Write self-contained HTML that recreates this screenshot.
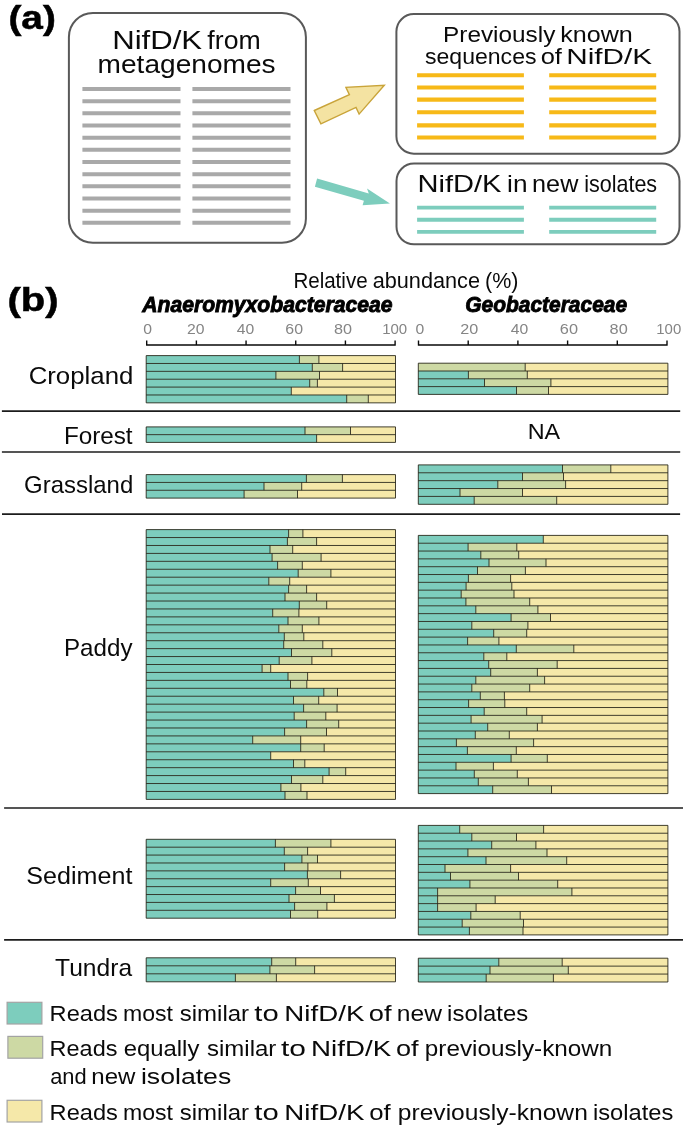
<!DOCTYPE html><html><head><meta charset="utf-8"><title>NifD/K figure</title>
<style>html,body{margin:0;padding:0;background:#fff}svg{display:block}text{font-family:"Liberation Sans",sans-serif;fill:#0a0a0a}</style></head><body>
<svg width="685" height="1131" viewBox="0 0 685 1131">
<rect width="685" height="1131" fill="#fff"/>
<text x="8.42" y="29.0" font-size="34" textLength="47.45" lengthAdjust="spacingAndGlyphs" font-weight="bold" style="fill:#000;stroke:#000;stroke-width:0.5">(a)</text>
<g fill="none" stroke="#595959" stroke-width="2">
<rect x="68.9" y="13" width="237" height="229.8" rx="24" ry="24"/>
<rect x="396.4" y="14.05" width="283.1" height="139.6" rx="17.5" ry="17.5"/>
<rect x="396.5" y="163.6" width="283" height="80.7" rx="17.5" ry="17.5"/>
</g>
<text x="112.18" y="48.5" font-size="25.2" textLength="89.96" lengthAdjust="spacingAndGlyphs">NifD/K</text> <text x="207.39" y="48.5" font-size="25.2" textLength="53.35" lengthAdjust="spacingAndGlyphs">from</text>
<text x="97.64" y="72.7" font-size="25.2" textLength="177.92" lengthAdjust="spacingAndGlyphs">metagenomes</text>
<path d="M82.4 89.00H180.5M192.4 89.00H290.5M82.4 101.17H180.5M192.4 101.17H290.5M82.4 113.34H180.5M192.4 113.34H290.5M82.4 125.51H180.5M192.4 125.51H290.5M82.4 137.68H180.5M192.4 137.68H290.5M82.4 149.85H180.5M192.4 149.85H290.5M82.4 162.02H180.5M192.4 162.02H290.5M82.4 174.19H180.5M192.4 174.19H290.5M82.4 186.36H180.5M192.4 186.36H290.5M82.4 198.53H180.5M192.4 198.53H290.5M82.4 210.70H180.5M192.4 210.70H290.5M82.4 222.87H180.5M192.4 222.87H290.5" stroke="#a9a9a9" stroke-width="4" fill="none"/>
<text x="443.05" y="41.9" font-size="22.8" textLength="112.29" lengthAdjust="spacingAndGlyphs">Previously</text> <text x="560.15" y="41.9" font-size="22.8" textLength="72.63" lengthAdjust="spacingAndGlyphs">known</text>
<text x="425.02" y="64.3" font-size="22.8" textLength="111.47" lengthAdjust="spacingAndGlyphs">sequences</text> <text x="540.65" y="64.3" font-size="22.8" textLength="21.27" lengthAdjust="spacingAndGlyphs">of</text> <text x="566.3" y="64.3" font-size="22.8" textLength="85.74" lengthAdjust="spacingAndGlyphs">NifD/K</text>
<path d="M417.1 75.30H523.9M549.2 75.30H656.2M417.1 87.50H523.9M549.2 87.50H656.2M417.1 99.60H523.9M549.2 99.60H656.2M417.1 112.30H523.9M549.2 112.30H656.2M417.1 125.40H523.9M549.2 125.40H656.2M417.1 137.50H523.9M549.2 137.50H656.2" stroke="#f7b918" stroke-width="4.1" fill="none"/>
<text x="417.46" y="191.7" font-size="23.2" textLength="83.94" lengthAdjust="spacingAndGlyphs">NifD/K</text> <text x="507.08" y="191.7" font-size="23.2" textLength="20.41" lengthAdjust="spacingAndGlyphs">in</text> <text x="532.12" y="191.7" font-size="23.2" textLength="46.23" lengthAdjust="spacingAndGlyphs">new</text> <text x="584.2" y="191.7" font-size="23.2" textLength="72.91" lengthAdjust="spacingAndGlyphs">isolates</text>
<path d="M417.1 207.60H523.9M549.2 207.60H656.2M417.1 219.75H523.9M549.2 219.75H656.2M417.1 231.90H523.9M549.2 231.90H656.2" stroke="#7dcdbd" stroke-width="3.9" fill="none"/>
<polygon points="314.3,110.5 349.4,94.7 345.9,87.3 384.3,85.3 359.1,114.1 356.0,107.4 320.9,123.8" fill="#f4e3a2" stroke="#c9a43a" stroke-width="1.4" stroke-linejoin="miter"/>
<polygon points="317.1,178.6 368.8,193.4 367.0,188.6 389.9,203.6 362.6,205.2 363.9,200.8 314.9,186.7" fill="#7dcdbd"/>
<text x="7.46" y="311.2" font-size="34" textLength="51.1" lengthAdjust="spacingAndGlyphs" font-weight="bold" style="fill:#000;stroke:#000;stroke-width:0.5">(b)</text>
<text x="293.4" y="288.2" font-size="21.8" textLength="74.18" lengthAdjust="spacingAndGlyphs">Relative</text> <text x="372.65" y="288.2" font-size="21.8" textLength="107.36" lengthAdjust="spacingAndGlyphs">abundance</text> <text x="485.04" y="288.2" font-size="21.8" textLength="33.4" lengthAdjust="spacingAndGlyphs">(%)</text>
<text x="142.24" y="312.1" font-size="21.7" textLength="250.18" lengthAdjust="spacingAndGlyphs" font-weight="bold" font-style="italic" style="fill:#000;stroke:#000;stroke-width:0.9">Anaeromyxobacteraceae</text>
<text x="465.35" y="312.1" font-size="21.7" textLength="161.73" lengthAdjust="spacingAndGlyphs" font-weight="bold" font-style="italic" style="fill:#000;stroke:#000;stroke-width:0.9">Geobacteraceae</text>
<text x="143.33" y="334.1" font-size="15.5" textLength="8.75" lengthAdjust="spacingAndGlyphs" style="fill:#858585">0</text>
<text x="187.07" y="334.1" font-size="15.5" textLength="17.5" lengthAdjust="spacingAndGlyphs" style="fill:#858585">20</text>
<text x="236.85" y="334.1" font-size="15.5" textLength="17.49" lengthAdjust="spacingAndGlyphs" style="fill:#858585">40</text>
<text x="285.34" y="334.1" font-size="15.5" textLength="17.69" lengthAdjust="spacingAndGlyphs" style="fill:#858585">60</text>
<text x="334.09" y="334.1" font-size="15.5" textLength="18.01" lengthAdjust="spacingAndGlyphs" style="fill:#858585">80</text>
<text x="382.15" y="334.1" font-size="15.5" textLength="25.04" lengthAdjust="spacingAndGlyphs" style="fill:#858585">100</text>
<path d="M146.1 345H395.7M146.70 340.6V345.6M196.38 340.6V345.6M246.06 340.6V345.6M295.74 340.6V345.6M345.42 340.6V345.6M395.10 340.6V345.6" stroke="#0a0a0a" stroke-width="1.4" fill="none"/>
<text x="415.61" y="334.1" font-size="15.5" textLength="8.74" lengthAdjust="spacingAndGlyphs" style="fill:#858585">0</text>
<text x="460.34" y="334.1" font-size="15.5" textLength="18.0" lengthAdjust="spacingAndGlyphs" style="fill:#858585">20</text>
<text x="510.85" y="334.1" font-size="15.5" textLength="17.49" lengthAdjust="spacingAndGlyphs" style="fill:#858585">40</text>
<text x="559.88" y="334.1" font-size="15.5" textLength="18.14" lengthAdjust="spacingAndGlyphs" style="fill:#858585">60</text>
<text x="609.62" y="334.1" font-size="15.5" textLength="18.15" lengthAdjust="spacingAndGlyphs" style="fill:#858585">80</text>
<text x="656.29" y="334.1" font-size="15.5" textLength="24.95" lengthAdjust="spacingAndGlyphs" style="fill:#858585">100</text>
<path d="M417.9 345H667.6M418.50 340.6V345.6M468.20 340.6V345.6M517.90 340.6V345.6M567.60 340.6V345.6M617.30 340.6V345.6M667.00 340.6V345.6" stroke="#0a0a0a" stroke-width="1.4" fill="none"/>
<path d="M1.9 411.1H680.2" stroke="#1c1c1c" stroke-width="1.7" fill="none"/>
<path d="M1.9 452.0H680.2" stroke="#1c1c1c" stroke-width="1.7" fill="none"/>
<path d="M2 514.1H680.1" stroke="#1c1c1c" stroke-width="1.7" fill="none"/>
<path d="M4.1 808.0H683" stroke="#1c1c1c" stroke-width="1.7" fill="none"/>
<path d="M4.1 939.9H683" stroke="#1c1c1c" stroke-width="1.7" fill="none"/>
<text x="28.65" y="383.8" font-size="24.4" textLength="104.69" lengthAdjust="spacingAndGlyphs">Cropland</text>
<text x="63.91" y="443.9" font-size="24.4" textLength="68.7" lengthAdjust="spacingAndGlyphs">Forest</text>
<text x="24.07" y="493.2" font-size="24.4" textLength="109.15" lengthAdjust="spacingAndGlyphs">Grassland</text>
<text x="63.99" y="655.6" font-size="24.4" textLength="68.53" lengthAdjust="spacingAndGlyphs">Paddy</text>
<text x="26.38" y="884.2" font-size="24.4" textLength="105.98" lengthAdjust="spacingAndGlyphs">Sediment</text>
<text x="55.1" y="975.9" font-size="24.4" textLength="76.98" lengthAdjust="spacingAndGlyphs">Tundra</text>
<text x="527.74" y="438.8" font-size="22.2" textLength="32.41" lengthAdjust="spacingAndGlyphs">NA</text>
<rect x="146.2" y="355.60" width="153.2" height="7.88" fill="#7dcdbd"/>
<rect x="299.4" y="355.60" width="19.5" height="7.88" fill="#cdd9a4"/>
<rect x="318.9" y="355.60" width="76.6" height="7.88" fill="#f5e8a9"/>
<rect x="146.2" y="363.48" width="166.1" height="7.88" fill="#7dcdbd"/>
<rect x="312.3" y="363.48" width="30.3" height="7.88" fill="#cdd9a4"/>
<rect x="342.6" y="363.48" width="52.9" height="7.88" fill="#f5e8a9"/>
<rect x="146.2" y="371.35" width="129.7" height="7.88" fill="#7dcdbd"/>
<rect x="275.9" y="371.35" width="43.6" height="7.88" fill="#cdd9a4"/>
<rect x="319.5" y="371.35" width="76.0" height="7.88" fill="#f5e8a9"/>
<rect x="146.2" y="379.23" width="163.5" height="7.88" fill="#7dcdbd"/>
<rect x="309.7" y="379.23" width="7.7" height="7.88" fill="#cdd9a4"/>
<rect x="317.4" y="379.23" width="78.1" height="7.88" fill="#f5e8a9"/>
<rect x="146.2" y="387.10" width="145.1" height="7.88" fill="#7dcdbd"/>
<rect x="291.3" y="387.10" width="104.2" height="7.88" fill="#f5e8a9"/>
<rect x="146.2" y="394.98" width="200.5" height="7.88" fill="#7dcdbd"/>
<rect x="346.7" y="394.98" width="21.6" height="7.88" fill="#cdd9a4"/>
<rect x="368.3" y="394.98" width="27.2" height="7.88" fill="#f5e8a9"/>
<rect x="146.2" y="426.90" width="158.8" height="7.75" fill="#7dcdbd"/>
<rect x="305.0" y="426.90" width="45.5" height="7.75" fill="#cdd9a4"/>
<rect x="350.5" y="426.90" width="45.0" height="7.75" fill="#f5e8a9"/>
<rect x="146.2" y="434.65" width="170.4" height="7.75" fill="#7dcdbd"/>
<rect x="316.6" y="434.65" width="78.9" height="7.75" fill="#f5e8a9"/>
<rect x="146.2" y="474.60" width="160.2" height="7.83" fill="#7dcdbd"/>
<rect x="306.4" y="474.60" width="36.0" height="7.83" fill="#cdd9a4"/>
<rect x="342.4" y="474.60" width="53.1" height="7.83" fill="#f5e8a9"/>
<rect x="146.2" y="482.43" width="117.8" height="7.83" fill="#7dcdbd"/>
<rect x="264.0" y="482.43" width="37.7" height="7.83" fill="#cdd9a4"/>
<rect x="301.7" y="482.43" width="93.8" height="7.83" fill="#f5e8a9"/>
<rect x="146.2" y="490.27" width="97.9" height="7.83" fill="#7dcdbd"/>
<rect x="244.1" y="490.27" width="53.4" height="7.83" fill="#cdd9a4"/>
<rect x="297.5" y="490.27" width="98.0" height="7.83" fill="#f5e8a9"/>
<rect x="146.2" y="529.60" width="142.4" height="7.94" fill="#7dcdbd"/>
<rect x="288.6" y="529.60" width="14.3" height="7.94" fill="#cdd9a4"/>
<rect x="302.9" y="529.60" width="92.6" height="7.94" fill="#f5e8a9"/>
<rect x="146.2" y="537.54" width="141.2" height="7.94" fill="#7dcdbd"/>
<rect x="287.4" y="537.54" width="29.2" height="7.94" fill="#cdd9a4"/>
<rect x="316.6" y="537.54" width="78.9" height="7.94" fill="#f5e8a9"/>
<rect x="146.2" y="545.47" width="123.8" height="7.94" fill="#7dcdbd"/>
<rect x="270.0" y="545.47" width="22.7" height="7.94" fill="#cdd9a4"/>
<rect x="292.7" y="545.47" width="102.8" height="7.94" fill="#f5e8a9"/>
<rect x="146.2" y="553.41" width="125.9" height="7.94" fill="#7dcdbd"/>
<rect x="272.1" y="553.41" width="49.0" height="7.94" fill="#cdd9a4"/>
<rect x="321.1" y="553.41" width="74.4" height="7.94" fill="#f5e8a9"/>
<rect x="146.2" y="561.34" width="131.4" height="7.94" fill="#7dcdbd"/>
<rect x="277.6" y="561.34" width="24.7" height="7.94" fill="#cdd9a4"/>
<rect x="302.3" y="561.34" width="93.2" height="7.94" fill="#f5e8a9"/>
<rect x="146.2" y="569.28" width="152.0" height="7.94" fill="#7dcdbd"/>
<rect x="298.2" y="569.28" width="32.7" height="7.94" fill="#cdd9a4"/>
<rect x="330.9" y="569.28" width="64.6" height="7.94" fill="#f5e8a9"/>
<rect x="146.2" y="577.21" width="122.6" height="7.94" fill="#7dcdbd"/>
<rect x="268.8" y="577.21" width="20.9" height="7.94" fill="#cdd9a4"/>
<rect x="289.7" y="577.21" width="105.8" height="7.94" fill="#f5e8a9"/>
<rect x="146.2" y="585.15" width="142.4" height="7.94" fill="#7dcdbd"/>
<rect x="288.6" y="585.15" width="18.0" height="7.94" fill="#cdd9a4"/>
<rect x="306.6" y="585.15" width="88.9" height="7.94" fill="#f5e8a9"/>
<rect x="146.2" y="593.08" width="138.8" height="7.94" fill="#7dcdbd"/>
<rect x="285.0" y="593.08" width="31.6" height="7.94" fill="#cdd9a4"/>
<rect x="316.6" y="593.08" width="78.9" height="7.94" fill="#f5e8a9"/>
<rect x="146.2" y="601.02" width="153.1" height="7.94" fill="#7dcdbd"/>
<rect x="299.3" y="601.02" width="27.4" height="7.94" fill="#cdd9a4"/>
<rect x="326.7" y="601.02" width="68.8" height="7.94" fill="#f5e8a9"/>
<rect x="146.2" y="608.95" width="126.5" height="7.94" fill="#7dcdbd"/>
<rect x="272.7" y="608.95" width="26.2" height="7.94" fill="#cdd9a4"/>
<rect x="298.9" y="608.95" width="96.6" height="7.94" fill="#f5e8a9"/>
<rect x="146.2" y="616.89" width="141.8" height="7.94" fill="#7dcdbd"/>
<rect x="288.0" y="616.89" width="30.9" height="7.94" fill="#cdd9a4"/>
<rect x="318.9" y="616.89" width="76.6" height="7.94" fill="#f5e8a9"/>
<rect x="146.2" y="624.82" width="132.6" height="7.94" fill="#7dcdbd"/>
<rect x="278.8" y="624.82" width="23.5" height="7.94" fill="#cdd9a4"/>
<rect x="302.3" y="624.82" width="93.2" height="7.94" fill="#f5e8a9"/>
<rect x="146.2" y="632.76" width="138.1" height="7.94" fill="#7dcdbd"/>
<rect x="284.3" y="632.76" width="19.5" height="7.94" fill="#cdd9a4"/>
<rect x="303.8" y="632.76" width="91.7" height="7.94" fill="#f5e8a9"/>
<rect x="146.2" y="640.69" width="137.5" height="7.94" fill="#7dcdbd"/>
<rect x="283.7" y="640.69" width="39.1" height="7.94" fill="#cdd9a4"/>
<rect x="322.8" y="640.69" width="72.7" height="7.94" fill="#f5e8a9"/>
<rect x="146.2" y="648.63" width="145.3" height="7.94" fill="#7dcdbd"/>
<rect x="291.5" y="648.63" width="40.3" height="7.94" fill="#cdd9a4"/>
<rect x="331.8" y="648.63" width="63.7" height="7.94" fill="#f5e8a9"/>
<rect x="146.2" y="656.56" width="133.0" height="7.94" fill="#7dcdbd"/>
<rect x="279.2" y="656.56" width="32.7" height="7.94" fill="#cdd9a4"/>
<rect x="311.9" y="656.56" width="83.6" height="7.94" fill="#f5e8a9"/>
<rect x="146.2" y="664.50" width="115.9" height="7.94" fill="#7dcdbd"/>
<rect x="262.1" y="664.50" width="8.6" height="7.94" fill="#cdd9a4"/>
<rect x="270.7" y="664.50" width="124.8" height="7.94" fill="#f5e8a9"/>
<rect x="146.2" y="672.44" width="141.8" height="7.94" fill="#7dcdbd"/>
<rect x="288.0" y="672.44" width="19.6" height="7.94" fill="#cdd9a4"/>
<rect x="307.6" y="672.44" width="87.9" height="7.94" fill="#f5e8a9"/>
<rect x="146.2" y="680.37" width="144.3" height="7.94" fill="#7dcdbd"/>
<rect x="290.5" y="680.37" width="16.3" height="7.94" fill="#cdd9a4"/>
<rect x="306.8" y="680.37" width="88.7" height="7.94" fill="#f5e8a9"/>
<rect x="146.2" y="688.31" width="177.6" height="7.94" fill="#7dcdbd"/>
<rect x="323.8" y="688.31" width="13.7" height="7.94" fill="#cdd9a4"/>
<rect x="337.5" y="688.31" width="58.0" height="7.94" fill="#f5e8a9"/>
<rect x="146.2" y="696.24" width="147.3" height="7.94" fill="#7dcdbd"/>
<rect x="293.5" y="696.24" width="25.2" height="7.94" fill="#cdd9a4"/>
<rect x="318.7" y="696.24" width="76.8" height="7.94" fill="#f5e8a9"/>
<rect x="146.2" y="704.18" width="157.4" height="7.94" fill="#7dcdbd"/>
<rect x="303.6" y="704.18" width="33.5" height="7.94" fill="#cdd9a4"/>
<rect x="337.1" y="704.18" width="58.4" height="7.94" fill="#f5e8a9"/>
<rect x="146.2" y="712.11" width="148.0" height="7.94" fill="#7dcdbd"/>
<rect x="294.2" y="712.11" width="31.6" height="7.94" fill="#cdd9a4"/>
<rect x="325.8" y="712.11" width="69.7" height="7.94" fill="#f5e8a9"/>
<rect x="146.2" y="720.05" width="160.4" height="7.94" fill="#7dcdbd"/>
<rect x="306.6" y="720.05" width="32.1" height="7.94" fill="#cdd9a4"/>
<rect x="338.7" y="720.05" width="56.8" height="7.94" fill="#f5e8a9"/>
<rect x="146.2" y="727.98" width="138.4" height="7.94" fill="#7dcdbd"/>
<rect x="284.6" y="727.98" width="41.9" height="7.94" fill="#cdd9a4"/>
<rect x="326.5" y="727.98" width="69.0" height="7.94" fill="#f5e8a9"/>
<rect x="146.2" y="735.92" width="106.5" height="7.94" fill="#7dcdbd"/>
<rect x="252.7" y="735.92" width="48.0" height="7.94" fill="#cdd9a4"/>
<rect x="300.7" y="735.92" width="94.8" height="7.94" fill="#f5e8a9"/>
<rect x="146.2" y="743.85" width="154.5" height="7.94" fill="#7dcdbd"/>
<rect x="300.7" y="743.85" width="23.5" height="7.94" fill="#cdd9a4"/>
<rect x="324.2" y="743.85" width="71.3" height="7.94" fill="#f5e8a9"/>
<rect x="146.2" y="751.79" width="124.5" height="7.94" fill="#7dcdbd"/>
<rect x="270.7" y="751.79" width="124.8" height="7.94" fill="#f5e8a9"/>
<rect x="146.2" y="759.72" width="147.3" height="7.94" fill="#7dcdbd"/>
<rect x="293.5" y="759.72" width="11.3" height="7.94" fill="#cdd9a4"/>
<rect x="304.8" y="759.72" width="90.7" height="7.94" fill="#f5e8a9"/>
<rect x="146.2" y="767.66" width="182.9" height="7.94" fill="#7dcdbd"/>
<rect x="329.1" y="767.66" width="16.6" height="7.94" fill="#cdd9a4"/>
<rect x="345.7" y="767.66" width="49.8" height="7.94" fill="#f5e8a9"/>
<rect x="146.2" y="775.59" width="145.3" height="7.94" fill="#7dcdbd"/>
<rect x="291.5" y="775.59" width="31.3" height="7.94" fill="#cdd9a4"/>
<rect x="322.8" y="775.59" width="72.7" height="7.94" fill="#f5e8a9"/>
<rect x="146.2" y="783.53" width="134.7" height="7.94" fill="#7dcdbd"/>
<rect x="280.9" y="783.53" width="20.0" height="7.94" fill="#cdd9a4"/>
<rect x="300.9" y="783.53" width="94.6" height="7.94" fill="#f5e8a9"/>
<rect x="146.2" y="791.46" width="138.8" height="7.94" fill="#7dcdbd"/>
<rect x="285.0" y="791.46" width="22.0" height="7.94" fill="#cdd9a4"/>
<rect x="307.0" y="791.46" width="88.5" height="7.94" fill="#f5e8a9"/>
<rect x="146.2" y="839.30" width="129.2" height="7.89" fill="#7dcdbd"/>
<rect x="275.4" y="839.30" width="55.5" height="7.89" fill="#cdd9a4"/>
<rect x="330.9" y="839.30" width="64.6" height="7.89" fill="#f5e8a9"/>
<rect x="146.2" y="847.19" width="138.1" height="7.89" fill="#7dcdbd"/>
<rect x="284.3" y="847.19" width="23.3" height="7.89" fill="#cdd9a4"/>
<rect x="307.6" y="847.19" width="87.9" height="7.89" fill="#f5e8a9"/>
<rect x="146.2" y="855.08" width="155.7" height="7.89" fill="#7dcdbd"/>
<rect x="301.9" y="855.08" width="15.6" height="7.89" fill="#cdd9a4"/>
<rect x="317.5" y="855.08" width="78.0" height="7.89" fill="#f5e8a9"/>
<rect x="146.2" y="862.97" width="138.4" height="7.89" fill="#7dcdbd"/>
<rect x="284.6" y="862.97" width="23.3" height="7.89" fill="#cdd9a4"/>
<rect x="307.9" y="862.97" width="87.6" height="7.89" fill="#f5e8a9"/>
<rect x="146.2" y="870.86" width="161.2" height="7.89" fill="#7dcdbd"/>
<rect x="307.4" y="870.86" width="33.2" height="7.89" fill="#cdd9a4"/>
<rect x="340.6" y="870.86" width="54.9" height="7.89" fill="#f5e8a9"/>
<rect x="146.2" y="878.75" width="124.5" height="7.89" fill="#7dcdbd"/>
<rect x="270.7" y="878.75" width="37.6" height="7.89" fill="#cdd9a4"/>
<rect x="308.3" y="878.75" width="87.2" height="7.89" fill="#f5e8a9"/>
<rect x="146.2" y="886.64" width="149.4" height="7.89" fill="#7dcdbd"/>
<rect x="295.6" y="886.64" width="24.9" height="7.89" fill="#cdd9a4"/>
<rect x="320.5" y="886.64" width="75.0" height="7.89" fill="#f5e8a9"/>
<rect x="146.2" y="894.53" width="142.8" height="7.89" fill="#7dcdbd"/>
<rect x="289.0" y="894.53" width="45.4" height="7.89" fill="#cdd9a4"/>
<rect x="334.4" y="894.53" width="61.1" height="7.89" fill="#f5e8a9"/>
<rect x="146.2" y="902.42" width="148.4" height="7.89" fill="#7dcdbd"/>
<rect x="294.6" y="902.42" width="32.3" height="7.89" fill="#cdd9a4"/>
<rect x="326.9" y="902.42" width="68.6" height="7.89" fill="#f5e8a9"/>
<rect x="146.2" y="910.31" width="144.3" height="7.89" fill="#7dcdbd"/>
<rect x="290.5" y="910.31" width="27.2" height="7.89" fill="#cdd9a4"/>
<rect x="317.7" y="910.31" width="77.8" height="7.89" fill="#f5e8a9"/>
<rect x="146.2" y="957.80" width="125.5" height="8.00" fill="#7dcdbd"/>
<rect x="271.7" y="957.80" width="24.0" height="8.00" fill="#cdd9a4"/>
<rect x="295.7" y="957.80" width="99.8" height="8.00" fill="#f5e8a9"/>
<rect x="146.2" y="965.80" width="123.7" height="8.00" fill="#7dcdbd"/>
<rect x="269.9" y="965.80" width="44.7" height="8.00" fill="#cdd9a4"/>
<rect x="314.6" y="965.80" width="80.9" height="8.00" fill="#f5e8a9"/>
<rect x="146.2" y="973.80" width="89.2" height="8.00" fill="#7dcdbd"/>
<rect x="235.4" y="973.80" width="41.0" height="8.00" fill="#cdd9a4"/>
<rect x="276.4" y="973.80" width="119.1" height="8.00" fill="#f5e8a9"/>
<rect x="418.3" y="363.20" width="106.9" height="7.80" fill="#cdd9a4"/>
<rect x="525.2" y="363.20" width="142.7" height="7.80" fill="#f5e8a9"/>
<rect x="418.3" y="371.00" width="50.1" height="7.80" fill="#7dcdbd"/>
<rect x="468.4" y="371.00" width="58.9" height="7.80" fill="#cdd9a4"/>
<rect x="527.3" y="371.00" width="140.6" height="7.80" fill="#f5e8a9"/>
<rect x="418.3" y="378.80" width="66.2" height="7.80" fill="#7dcdbd"/>
<rect x="484.5" y="378.80" width="66.4" height="7.80" fill="#cdd9a4"/>
<rect x="550.9" y="378.80" width="117.0" height="7.80" fill="#f5e8a9"/>
<rect x="418.3" y="386.60" width="98.2" height="7.80" fill="#7dcdbd"/>
<rect x="516.5" y="386.60" width="32.0" height="7.80" fill="#cdd9a4"/>
<rect x="548.5" y="386.60" width="119.4" height="7.80" fill="#f5e8a9"/>
<rect x="418.3" y="464.90" width="144.2" height="7.88" fill="#7dcdbd"/>
<rect x="562.5" y="464.90" width="48.3" height="7.88" fill="#cdd9a4"/>
<rect x="610.8" y="464.90" width="57.1" height="7.88" fill="#f5e8a9"/>
<rect x="418.3" y="472.78" width="104.2" height="7.88" fill="#7dcdbd"/>
<rect x="522.5" y="472.78" width="41.0" height="7.88" fill="#cdd9a4"/>
<rect x="563.5" y="472.78" width="104.4" height="7.88" fill="#f5e8a9"/>
<rect x="418.3" y="480.66" width="79.5" height="7.88" fill="#7dcdbd"/>
<rect x="497.8" y="480.66" width="67.8" height="7.88" fill="#cdd9a4"/>
<rect x="565.6" y="480.66" width="102.3" height="7.88" fill="#f5e8a9"/>
<rect x="418.3" y="488.54" width="41.7" height="7.88" fill="#7dcdbd"/>
<rect x="460.0" y="488.54" width="62.5" height="7.88" fill="#cdd9a4"/>
<rect x="522.5" y="488.54" width="145.4" height="7.88" fill="#f5e8a9"/>
<rect x="418.3" y="496.42" width="55.9" height="7.88" fill="#7dcdbd"/>
<rect x="474.2" y="496.42" width="82.5" height="7.88" fill="#cdd9a4"/>
<rect x="556.7" y="496.42" width="111.2" height="7.88" fill="#f5e8a9"/>
<rect x="418.3" y="535.40" width="125.0" height="7.82" fill="#7dcdbd"/>
<rect x="543.3" y="535.40" width="124.6" height="7.82" fill="#f5e8a9"/>
<rect x="418.3" y="543.22" width="49.8" height="7.82" fill="#7dcdbd"/>
<rect x="468.1" y="543.22" width="48.7" height="7.82" fill="#cdd9a4"/>
<rect x="516.8" y="543.22" width="151.1" height="7.82" fill="#f5e8a9"/>
<rect x="418.3" y="551.05" width="62.5" height="7.82" fill="#7dcdbd"/>
<rect x="480.8" y="551.05" width="37.9" height="7.82" fill="#cdd9a4"/>
<rect x="518.7" y="551.05" width="149.2" height="7.82" fill="#f5e8a9"/>
<rect x="418.3" y="558.87" width="70.7" height="7.82" fill="#7dcdbd"/>
<rect x="489.0" y="558.87" width="57.0" height="7.82" fill="#cdd9a4"/>
<rect x="546.0" y="558.87" width="121.9" height="7.82" fill="#f5e8a9"/>
<rect x="418.3" y="566.70" width="59.2" height="7.82" fill="#7dcdbd"/>
<rect x="477.5" y="566.70" width="47.9" height="7.82" fill="#cdd9a4"/>
<rect x="525.4" y="566.70" width="142.5" height="7.82" fill="#f5e8a9"/>
<rect x="418.3" y="574.52" width="50.1" height="7.82" fill="#7dcdbd"/>
<rect x="468.4" y="574.52" width="42.2" height="7.82" fill="#cdd9a4"/>
<rect x="510.6" y="574.52" width="157.3" height="7.82" fill="#f5e8a9"/>
<rect x="418.3" y="582.35" width="47.8" height="7.82" fill="#7dcdbd"/>
<rect x="466.1" y="582.35" width="45.7" height="7.82" fill="#cdd9a4"/>
<rect x="511.8" y="582.35" width="156.1" height="7.82" fill="#f5e8a9"/>
<rect x="418.3" y="590.17" width="42.9" height="7.82" fill="#7dcdbd"/>
<rect x="461.2" y="590.17" width="52.8" height="7.82" fill="#cdd9a4"/>
<rect x="514.0" y="590.17" width="153.9" height="7.82" fill="#f5e8a9"/>
<rect x="418.3" y="597.99" width="47.6" height="7.82" fill="#7dcdbd"/>
<rect x="465.9" y="597.99" width="63.8" height="7.82" fill="#cdd9a4"/>
<rect x="529.7" y="597.99" width="138.2" height="7.82" fill="#f5e8a9"/>
<rect x="418.3" y="605.82" width="57.5" height="7.82" fill="#7dcdbd"/>
<rect x="475.8" y="605.82" width="62.1" height="7.82" fill="#cdd9a4"/>
<rect x="537.9" y="605.82" width="130.0" height="7.82" fill="#f5e8a9"/>
<rect x="418.3" y="613.64" width="92.8" height="7.82" fill="#7dcdbd"/>
<rect x="511.1" y="613.64" width="39.4" height="7.82" fill="#cdd9a4"/>
<rect x="550.5" y="613.64" width="117.4" height="7.82" fill="#f5e8a9"/>
<rect x="418.3" y="621.47" width="53.5" height="7.82" fill="#7dcdbd"/>
<rect x="471.8" y="621.47" width="56.1" height="7.82" fill="#cdd9a4"/>
<rect x="527.9" y="621.47" width="140.0" height="7.82" fill="#f5e8a9"/>
<rect x="418.3" y="629.29" width="75.4" height="7.82" fill="#7dcdbd"/>
<rect x="493.7" y="629.29" width="33.0" height="7.82" fill="#cdd9a4"/>
<rect x="526.7" y="629.29" width="141.2" height="7.82" fill="#f5e8a9"/>
<rect x="418.3" y="637.12" width="49.3" height="7.82" fill="#7dcdbd"/>
<rect x="467.6" y="637.12" width="31.3" height="7.82" fill="#cdd9a4"/>
<rect x="498.9" y="637.12" width="169.0" height="7.82" fill="#f5e8a9"/>
<rect x="418.3" y="644.94" width="98.0" height="7.82" fill="#7dcdbd"/>
<rect x="516.3" y="644.94" width="57.5" height="7.82" fill="#cdd9a4"/>
<rect x="573.8" y="644.94" width="94.1" height="7.82" fill="#f5e8a9"/>
<rect x="418.3" y="652.76" width="65.5" height="7.82" fill="#7dcdbd"/>
<rect x="483.8" y="652.76" width="23.0" height="7.82" fill="#cdd9a4"/>
<rect x="506.8" y="652.76" width="161.1" height="7.82" fill="#f5e8a9"/>
<rect x="418.3" y="660.59" width="70.4" height="7.82" fill="#7dcdbd"/>
<rect x="488.7" y="660.59" width="68.5" height="7.82" fill="#cdd9a4"/>
<rect x="557.2" y="660.59" width="110.7" height="7.82" fill="#f5e8a9"/>
<rect x="418.3" y="668.41" width="72.4" height="7.82" fill="#7dcdbd"/>
<rect x="490.7" y="668.41" width="46.7" height="7.82" fill="#cdd9a4"/>
<rect x="537.4" y="668.41" width="130.5" height="7.82" fill="#f5e8a9"/>
<rect x="418.3" y="676.24" width="57.5" height="7.82" fill="#7dcdbd"/>
<rect x="475.8" y="676.24" width="68.8" height="7.82" fill="#cdd9a4"/>
<rect x="544.6" y="676.24" width="123.3" height="7.82" fill="#f5e8a9"/>
<rect x="418.3" y="684.06" width="53.5" height="7.82" fill="#7dcdbd"/>
<rect x="471.8" y="684.06" width="57.9" height="7.82" fill="#cdd9a4"/>
<rect x="529.7" y="684.06" width="138.2" height="7.82" fill="#f5e8a9"/>
<rect x="418.3" y="691.88" width="62.0" height="7.82" fill="#7dcdbd"/>
<rect x="480.3" y="691.88" width="24.1" height="7.82" fill="#cdd9a4"/>
<rect x="504.4" y="691.88" width="163.5" height="7.82" fill="#f5e8a9"/>
<rect x="418.3" y="699.71" width="50.3" height="7.82" fill="#7dcdbd"/>
<rect x="468.6" y="699.71" width="36.2" height="7.82" fill="#cdd9a4"/>
<rect x="504.8" y="699.71" width="163.1" height="7.82" fill="#f5e8a9"/>
<rect x="418.3" y="707.53" width="65.9" height="7.82" fill="#7dcdbd"/>
<rect x="484.2" y="707.53" width="42.5" height="7.82" fill="#cdd9a4"/>
<rect x="526.7" y="707.53" width="141.2" height="7.82" fill="#f5e8a9"/>
<rect x="418.3" y="715.36" width="52.8" height="7.82" fill="#7dcdbd"/>
<rect x="471.1" y="715.36" width="71.0" height="7.82" fill="#cdd9a4"/>
<rect x="542.1" y="715.36" width="125.8" height="7.82" fill="#f5e8a9"/>
<rect x="418.3" y="723.18" width="69.4" height="7.82" fill="#7dcdbd"/>
<rect x="487.7" y="723.18" width="49.7" height="7.82" fill="#cdd9a4"/>
<rect x="537.4" y="723.18" width="130.5" height="7.82" fill="#f5e8a9"/>
<rect x="418.3" y="731.01" width="57.0" height="7.82" fill="#7dcdbd"/>
<rect x="475.3" y="731.01" width="34.0" height="7.82" fill="#cdd9a4"/>
<rect x="509.3" y="731.01" width="158.6" height="7.82" fill="#f5e8a9"/>
<rect x="418.3" y="738.83" width="38.1" height="7.82" fill="#7dcdbd"/>
<rect x="456.4" y="738.83" width="77.2" height="7.82" fill="#cdd9a4"/>
<rect x="533.6" y="738.83" width="134.3" height="7.82" fill="#f5e8a9"/>
<rect x="418.3" y="746.65" width="49.1" height="7.82" fill="#7dcdbd"/>
<rect x="467.4" y="746.65" width="48.9" height="7.82" fill="#cdd9a4"/>
<rect x="516.3" y="746.65" width="151.6" height="7.82" fill="#f5e8a9"/>
<rect x="418.3" y="754.48" width="92.8" height="7.82" fill="#7dcdbd"/>
<rect x="511.1" y="754.48" width="36.2" height="7.82" fill="#cdd9a4"/>
<rect x="547.3" y="754.48" width="120.6" height="7.82" fill="#f5e8a9"/>
<rect x="418.3" y="762.30" width="37.7" height="7.82" fill="#7dcdbd"/>
<rect x="456.0" y="762.30" width="37.4" height="7.82" fill="#cdd9a4"/>
<rect x="493.4" y="762.30" width="174.5" height="7.82" fill="#f5e8a9"/>
<rect x="418.3" y="770.13" width="56.0" height="7.82" fill="#7dcdbd"/>
<rect x="474.3" y="770.13" width="43.0" height="7.82" fill="#cdd9a4"/>
<rect x="517.3" y="770.13" width="150.6" height="7.82" fill="#f5e8a9"/>
<rect x="418.3" y="777.95" width="60.0" height="7.82" fill="#7dcdbd"/>
<rect x="478.3" y="777.95" width="50.1" height="7.82" fill="#cdd9a4"/>
<rect x="528.4" y="777.95" width="139.5" height="7.82" fill="#f5e8a9"/>
<rect x="418.3" y="785.78" width="74.4" height="7.82" fill="#7dcdbd"/>
<rect x="492.7" y="785.78" width="58.8" height="7.82" fill="#cdd9a4"/>
<rect x="551.5" y="785.78" width="116.4" height="7.82" fill="#f5e8a9"/>
<rect x="418.3" y="825.40" width="41.4" height="7.82" fill="#7dcdbd"/>
<rect x="459.7" y="825.40" width="83.9" height="7.82" fill="#cdd9a4"/>
<rect x="543.6" y="825.40" width="124.3" height="7.82" fill="#f5e8a9"/>
<rect x="418.3" y="833.22" width="53.5" height="7.82" fill="#7dcdbd"/>
<rect x="471.8" y="833.22" width="44.7" height="7.82" fill="#cdd9a4"/>
<rect x="516.5" y="833.22" width="151.4" height="7.82" fill="#f5e8a9"/>
<rect x="418.3" y="841.04" width="73.4" height="7.82" fill="#7dcdbd"/>
<rect x="491.7" y="841.04" width="44.2" height="7.82" fill="#cdd9a4"/>
<rect x="535.9" y="841.04" width="132.0" height="7.82" fill="#f5e8a9"/>
<rect x="418.3" y="848.86" width="49.6" height="7.82" fill="#7dcdbd"/>
<rect x="467.9" y="848.86" width="79.1" height="7.82" fill="#cdd9a4"/>
<rect x="547.0" y="848.86" width="120.9" height="7.82" fill="#f5e8a9"/>
<rect x="418.3" y="856.69" width="67.7" height="7.82" fill="#7dcdbd"/>
<rect x="486.0" y="856.69" width="80.7" height="7.82" fill="#cdd9a4"/>
<rect x="566.7" y="856.69" width="101.2" height="7.82" fill="#f5e8a9"/>
<rect x="418.3" y="864.51" width="26.7" height="7.82" fill="#7dcdbd"/>
<rect x="445.0" y="864.51" width="65.6" height="7.82" fill="#cdd9a4"/>
<rect x="510.6" y="864.51" width="157.3" height="7.82" fill="#f5e8a9"/>
<rect x="418.3" y="872.33" width="32.2" height="7.82" fill="#7dcdbd"/>
<rect x="450.5" y="872.33" width="68.0" height="7.82" fill="#cdd9a4"/>
<rect x="518.5" y="872.33" width="149.4" height="7.82" fill="#f5e8a9"/>
<rect x="418.3" y="880.15" width="51.6" height="7.82" fill="#7dcdbd"/>
<rect x="469.9" y="880.15" width="87.8" height="7.82" fill="#cdd9a4"/>
<rect x="557.7" y="880.15" width="110.2" height="7.82" fill="#f5e8a9"/>
<rect x="418.3" y="887.97" width="19.3" height="7.82" fill="#7dcdbd"/>
<rect x="437.6" y="887.97" width="134.3" height="7.82" fill="#cdd9a4"/>
<rect x="571.9" y="887.97" width="96.0" height="7.82" fill="#f5e8a9"/>
<rect x="418.3" y="895.79" width="19.3" height="7.82" fill="#7dcdbd"/>
<rect x="437.6" y="895.79" width="57.6" height="7.82" fill="#cdd9a4"/>
<rect x="495.2" y="895.79" width="172.7" height="7.82" fill="#f5e8a9"/>
<rect x="418.3" y="903.61" width="19.3" height="7.82" fill="#7dcdbd"/>
<rect x="437.6" y="903.61" width="38.5" height="7.82" fill="#cdd9a4"/>
<rect x="476.1" y="903.61" width="191.8" height="7.82" fill="#f5e8a9"/>
<rect x="418.3" y="911.44" width="52.5" height="7.82" fill="#7dcdbd"/>
<rect x="470.8" y="911.44" width="49.4" height="7.82" fill="#cdd9a4"/>
<rect x="520.2" y="911.44" width="147.7" height="7.82" fill="#f5e8a9"/>
<rect x="418.3" y="919.26" width="43.9" height="7.82" fill="#7dcdbd"/>
<rect x="462.2" y="919.26" width="61.3" height="7.82" fill="#cdd9a4"/>
<rect x="523.5" y="919.26" width="144.4" height="7.82" fill="#f5e8a9"/>
<rect x="418.3" y="927.08" width="51.1" height="7.82" fill="#7dcdbd"/>
<rect x="469.4" y="927.08" width="53.6" height="7.82" fill="#cdd9a4"/>
<rect x="523.0" y="927.08" width="144.9" height="7.82" fill="#f5e8a9"/>
<rect x="418.3" y="958.20" width="80.5" height="7.93" fill="#7dcdbd"/>
<rect x="498.8" y="958.20" width="63.4" height="7.93" fill="#cdd9a4"/>
<rect x="562.2" y="958.20" width="105.7" height="7.93" fill="#f5e8a9"/>
<rect x="418.3" y="966.13" width="71.7" height="7.93" fill="#7dcdbd"/>
<rect x="490.0" y="966.13" width="78.3" height="7.93" fill="#cdd9a4"/>
<rect x="568.3" y="966.13" width="99.6" height="7.93" fill="#f5e8a9"/>
<rect x="418.3" y="974.07" width="67.9" height="7.93" fill="#7dcdbd"/>
<rect x="486.2" y="974.07" width="67.2" height="7.93" fill="#cdd9a4"/>
<rect x="553.4" y="974.07" width="114.5" height="7.93" fill="#f5e8a9"/>
<g fill="none" stroke="#201f10" stroke-width="0.85">
<path d="M146.2 355.60H395.5M299.4 355.60v7.88M318.9 355.60v7.88M146.2 363.48H395.5M312.3 363.48v7.88M342.6 363.48v7.88M146.2 371.35H395.5M275.9 371.35v7.88M319.5 371.35v7.88M146.2 379.23H395.5M309.7 379.23v7.88M317.4 379.23v7.88M146.2 387.10H395.5M291.3 387.10v7.88M146.2 394.98H395.5M346.7 394.98v7.88M368.3 394.98v7.88M146.2 402.85H395.5M146.2 355.60V402.85M395.5 355.60V402.85"/>
<path d="M146.2 426.90H395.5M305.0 426.90v7.75M350.5 426.90v7.75M146.2 434.65H395.5M316.6 434.65v7.75M146.2 442.40H395.5M146.2 426.90V442.40M395.5 426.90V442.40"/>
<path d="M146.2 474.60H395.5M306.4 474.60v7.83M342.4 474.60v7.83M146.2 482.43H395.5M264.0 482.43v7.83M301.7 482.43v7.83M146.2 490.27H395.5M244.1 490.27v7.83M297.5 490.27v7.83M146.2 498.10H395.5M146.2 474.60V498.10M395.5 474.60V498.10"/>
<path d="M146.2 529.60H395.5M288.6 529.60v7.94M302.9 529.60v7.94M146.2 537.54H395.5M287.4 537.54v7.94M316.6 537.54v7.94M146.2 545.47H395.5M270.0 545.47v7.94M292.7 545.47v7.94M146.2 553.41H395.5M272.1 553.41v7.94M321.1 553.41v7.94M146.2 561.34H395.5M277.6 561.34v7.94M302.3 561.34v7.94M146.2 569.28H395.5M298.2 569.28v7.94M330.9 569.28v7.94M146.2 577.21H395.5M268.8 577.21v7.94M289.7 577.21v7.94M146.2 585.15H395.5M288.6 585.15v7.94M306.6 585.15v7.94M146.2 593.08H395.5M285.0 593.08v7.94M316.6 593.08v7.94M146.2 601.02H395.5M299.3 601.02v7.94M326.7 601.02v7.94M146.2 608.95H395.5M272.7 608.95v7.94M298.9 608.95v7.94M146.2 616.89H395.5M288.0 616.89v7.94M318.9 616.89v7.94M146.2 624.82H395.5M278.8 624.82v7.94M302.3 624.82v7.94M146.2 632.76H395.5M284.3 632.76v7.94M303.8 632.76v7.94M146.2 640.69H395.5M283.7 640.69v7.94M322.8 640.69v7.94M146.2 648.63H395.5M291.5 648.63v7.94M331.8 648.63v7.94M146.2 656.56H395.5M279.2 656.56v7.94M311.9 656.56v7.94M146.2 664.50H395.5M262.1 664.50v7.94M270.7 664.50v7.94M146.2 672.44H395.5M288.0 672.44v7.94M307.6 672.44v7.94M146.2 680.37H395.5M290.5 680.37v7.94M306.8 680.37v7.94M146.2 688.31H395.5M323.8 688.31v7.94M337.5 688.31v7.94M146.2 696.24H395.5M293.5 696.24v7.94M318.7 696.24v7.94M146.2 704.18H395.5M303.6 704.18v7.94M337.1 704.18v7.94M146.2 712.11H395.5M294.2 712.11v7.94M325.8 712.11v7.94M146.2 720.05H395.5M306.6 720.05v7.94M338.7 720.05v7.94M146.2 727.98H395.5M284.6 727.98v7.94M326.5 727.98v7.94M146.2 735.92H395.5M252.7 735.92v7.94M300.7 735.92v7.94M146.2 743.85H395.5M300.7 743.85v7.94M324.2 743.85v7.94M146.2 751.79H395.5M270.7 751.79v7.94M146.2 759.72H395.5M293.5 759.72v7.94M304.8 759.72v7.94M146.2 767.66H395.5M329.1 767.66v7.94M345.7 767.66v7.94M146.2 775.59H395.5M291.5 775.59v7.94M322.8 775.59v7.94M146.2 783.53H395.5M280.9 783.53v7.94M300.9 783.53v7.94M146.2 791.46H395.5M285.0 791.46v7.94M307.0 791.46v7.94M146.2 799.40H395.5M146.2 529.60V799.40M395.5 529.60V799.40"/>
<path d="M146.2 839.30H395.5M275.4 839.30v7.89M330.9 839.30v7.89M146.2 847.19H395.5M284.3 847.19v7.89M307.6 847.19v7.89M146.2 855.08H395.5M301.9 855.08v7.89M317.5 855.08v7.89M146.2 862.97H395.5M284.6 862.97v7.89M307.9 862.97v7.89M146.2 870.86H395.5M307.4 870.86v7.89M340.6 870.86v7.89M146.2 878.75H395.5M270.7 878.75v7.89M308.3 878.75v7.89M146.2 886.64H395.5M295.6 886.64v7.89M320.5 886.64v7.89M146.2 894.53H395.5M289.0 894.53v7.89M334.4 894.53v7.89M146.2 902.42H395.5M294.6 902.42v7.89M326.9 902.42v7.89M146.2 910.31H395.5M290.5 910.31v7.89M317.7 910.31v7.89M146.2 918.20H395.5M146.2 839.30V918.20M395.5 839.30V918.20"/>
<path d="M146.2 957.80H395.5M271.7 957.80v8.00M295.7 957.80v8.00M146.2 965.80H395.5M269.9 965.80v8.00M314.6 965.80v8.00M146.2 973.80H395.5M235.4 973.80v8.00M276.4 973.80v8.00M146.2 981.80H395.5M146.2 957.80V981.80M395.5 957.80V981.80"/>
<path d="M418.3 363.20H667.9M525.2 363.20v7.80M418.3 371.00H667.9M468.4 371.00v7.80M527.3 371.00v7.80M418.3 378.80H667.9M484.5 378.80v7.80M550.9 378.80v7.80M418.3 386.60H667.9M516.5 386.60v7.80M548.5 386.60v7.80M418.3 394.40H667.9M418.3 363.20V394.40M667.9 363.20V394.40"/>
<path d="M418.3 464.90H667.9M562.5 464.90v7.88M610.8 464.90v7.88M418.3 472.78H667.9M522.5 472.78v7.88M563.5 472.78v7.88M418.3 480.66H667.9M497.8 480.66v7.88M565.6 480.66v7.88M418.3 488.54H667.9M460.0 488.54v7.88M522.5 488.54v7.88M418.3 496.42H667.9M474.2 496.42v7.88M556.7 496.42v7.88M418.3 504.30H667.9M418.3 464.90V504.30M667.9 464.90V504.30"/>
<path d="M418.3 535.40H667.9M543.3 535.40v7.82M418.3 543.22H667.9M468.1 543.22v7.82M516.8 543.22v7.82M418.3 551.05H667.9M480.8 551.05v7.82M518.7 551.05v7.82M418.3 558.87H667.9M489.0 558.87v7.82M546.0 558.87v7.82M418.3 566.70H667.9M477.5 566.70v7.82M525.4 566.70v7.82M418.3 574.52H667.9M468.4 574.52v7.82M510.6 574.52v7.82M418.3 582.35H667.9M466.1 582.35v7.82M511.8 582.35v7.82M418.3 590.17H667.9M461.2 590.17v7.82M514.0 590.17v7.82M418.3 597.99H667.9M465.9 597.99v7.82M529.7 597.99v7.82M418.3 605.82H667.9M475.8 605.82v7.82M537.9 605.82v7.82M418.3 613.64H667.9M511.1 613.64v7.82M550.5 613.64v7.82M418.3 621.47H667.9M471.8 621.47v7.82M527.9 621.47v7.82M418.3 629.29H667.9M493.7 629.29v7.82M526.7 629.29v7.82M418.3 637.12H667.9M467.6 637.12v7.82M498.9 637.12v7.82M418.3 644.94H667.9M516.3 644.94v7.82M573.8 644.94v7.82M418.3 652.76H667.9M483.8 652.76v7.82M506.8 652.76v7.82M418.3 660.59H667.9M488.7 660.59v7.82M557.2 660.59v7.82M418.3 668.41H667.9M490.7 668.41v7.82M537.4 668.41v7.82M418.3 676.24H667.9M475.8 676.24v7.82M544.6 676.24v7.82M418.3 684.06H667.9M471.8 684.06v7.82M529.7 684.06v7.82M418.3 691.88H667.9M480.3 691.88v7.82M504.4 691.88v7.82M418.3 699.71H667.9M468.6 699.71v7.82M504.8 699.71v7.82M418.3 707.53H667.9M484.2 707.53v7.82M526.7 707.53v7.82M418.3 715.36H667.9M471.1 715.36v7.82M542.1 715.36v7.82M418.3 723.18H667.9M487.7 723.18v7.82M537.4 723.18v7.82M418.3 731.01H667.9M475.3 731.01v7.82M509.3 731.01v7.82M418.3 738.83H667.9M456.4 738.83v7.82M533.6 738.83v7.82M418.3 746.65H667.9M467.4 746.65v7.82M516.3 746.65v7.82M418.3 754.48H667.9M511.1 754.48v7.82M547.3 754.48v7.82M418.3 762.30H667.9M456.0 762.30v7.82M493.4 762.30v7.82M418.3 770.13H667.9M474.3 770.13v7.82M517.3 770.13v7.82M418.3 777.95H667.9M478.3 777.95v7.82M528.4 777.95v7.82M418.3 785.78H667.9M492.7 785.78v7.82M551.5 785.78v7.82M418.3 793.60H667.9M418.3 535.40V793.60M667.9 535.40V793.60"/>
<path d="M418.3 825.40H667.9M459.7 825.40v7.82M543.6 825.40v7.82M418.3 833.22H667.9M471.8 833.22v7.82M516.5 833.22v7.82M418.3 841.04H667.9M491.7 841.04v7.82M535.9 841.04v7.82M418.3 848.86H667.9M467.9 848.86v7.82M547.0 848.86v7.82M418.3 856.69H667.9M486.0 856.69v7.82M566.7 856.69v7.82M418.3 864.51H667.9M445.0 864.51v7.82M510.6 864.51v7.82M418.3 872.33H667.9M450.5 872.33v7.82M518.5 872.33v7.82M418.3 880.15H667.9M469.9 880.15v7.82M557.7 880.15v7.82M418.3 887.97H667.9M437.6 887.97v7.82M571.9 887.97v7.82M418.3 895.79H667.9M437.6 895.79v7.82M495.2 895.79v7.82M418.3 903.61H667.9M437.6 903.61v7.82M476.1 903.61v7.82M418.3 911.44H667.9M470.8 911.44v7.82M520.2 911.44v7.82M418.3 919.26H667.9M462.2 919.26v7.82M523.5 919.26v7.82M418.3 927.08H667.9M469.4 927.08v7.82M523.0 927.08v7.82M418.3 934.90H667.9M418.3 825.40V934.90M667.9 825.40V934.90"/>
<path d="M418.3 958.20H667.9M498.8 958.20v7.93M562.2 958.20v7.93M418.3 966.13H667.9M490.0 966.13v7.93M568.3 966.13v7.93M418.3 974.07H667.9M486.2 974.07v7.93M553.4 974.07v7.93M418.3 982.00H667.9M418.3 958.20V982.00M667.9 958.20V982.00"/>
</g>
<rect x="7.1" y="1002.3" width="34.8" height="21.7" fill="#7dcdbd" stroke="#a3a3a3" stroke-width="1.2"/>
<rect x="7.9" y="1036.4" width="34.8" height="21.8" fill="#cdd9a4" stroke="#a3a3a3" stroke-width="1.2"/>
<rect x="7.1" y="1100.3" width="34.8" height="21.7" fill="#f5e8a9" stroke="#a3a3a3" stroke-width="1.2"/>
<text x="49.63" y="1021.0" font-size="21.8" textLength="68.3" lengthAdjust="spacingAndGlyphs">Reads</text> <text x="123.06" y="1021.0" font-size="21.8" textLength="49.98" lengthAdjust="spacingAndGlyphs">most</text> <text x="179.72" y="1021.0" font-size="21.8" textLength="69.35" lengthAdjust="spacingAndGlyphs">similar</text> <text x="254.39" y="1021.0" font-size="21.8" textLength="24.38" lengthAdjust="spacingAndGlyphs">to</text> <text x="284.33" y="1021.0" font-size="21.8" textLength="80.05" lengthAdjust="spacingAndGlyphs">NifD/K</text> <text x="368.78" y="1021.0" font-size="21.8" textLength="22.74" lengthAdjust="spacingAndGlyphs">of</text> <text x="396.88" y="1021.0" font-size="21.8" textLength="45.08" lengthAdjust="spacingAndGlyphs">new</text> <text x="447.13" y="1021.0" font-size="21.8" textLength="81.01" lengthAdjust="spacingAndGlyphs">isolates</text>
<text x="49.61" y="1055.8" font-size="21.8" textLength="67.86" lengthAdjust="spacingAndGlyphs">Reads</text> <text x="123.72" y="1055.8" font-size="21.8" textLength="75.65" lengthAdjust="spacingAndGlyphs">equally</text> <text x="207.05" y="1055.8" font-size="21.8" textLength="69.29" lengthAdjust="spacingAndGlyphs">similar</text> <text x="281.0" y="1055.8" font-size="21.8" textLength="25.0" lengthAdjust="spacingAndGlyphs">to</text> <text x="311.14" y="1055.8" font-size="21.8" textLength="80.04" lengthAdjust="spacingAndGlyphs">NifD/K</text> <text x="395.91" y="1055.8" font-size="21.8" textLength="22.67" lengthAdjust="spacingAndGlyphs">of</text> <text x="424.88" y="1055.8" font-size="21.8" textLength="187.48" lengthAdjust="spacingAndGlyphs">previously-known</text>
<text x="50.17" y="1083.9" font-size="21.8" textLength="36.47" lengthAdjust="spacingAndGlyphs">and</text> <text x="91.31" y="1083.9" font-size="21.8" textLength="44.15" lengthAdjust="spacingAndGlyphs">new</text> <text x="140.95" y="1083.9" font-size="21.8" textLength="90.27" lengthAdjust="spacingAndGlyphs">isolates</text>
<text x="49.63" y="1119.5" font-size="21.8" textLength="68.3" lengthAdjust="spacingAndGlyphs">Reads</text> <text x="123.06" y="1119.5" font-size="21.8" textLength="49.98" lengthAdjust="spacingAndGlyphs">most</text> <text x="179.72" y="1119.5" font-size="21.8" textLength="69.35" lengthAdjust="spacingAndGlyphs">similar</text> <text x="254.39" y="1119.5" font-size="21.8" textLength="24.38" lengthAdjust="spacingAndGlyphs">to</text> <text x="284.33" y="1119.5" font-size="21.8" textLength="80.05" lengthAdjust="spacingAndGlyphs">NifD/K</text> <text x="369.2" y="1119.5" font-size="21.8" textLength="21.51" lengthAdjust="spacingAndGlyphs">of</text> <text x="397.81" y="1119.5" font-size="21.8" textLength="190.03" lengthAdjust="spacingAndGlyphs">previously-known</text> <text x="592.92" y="1119.5" font-size="21.8" textLength="80.4" lengthAdjust="spacingAndGlyphs">isolates</text>
</svg></body></html>
